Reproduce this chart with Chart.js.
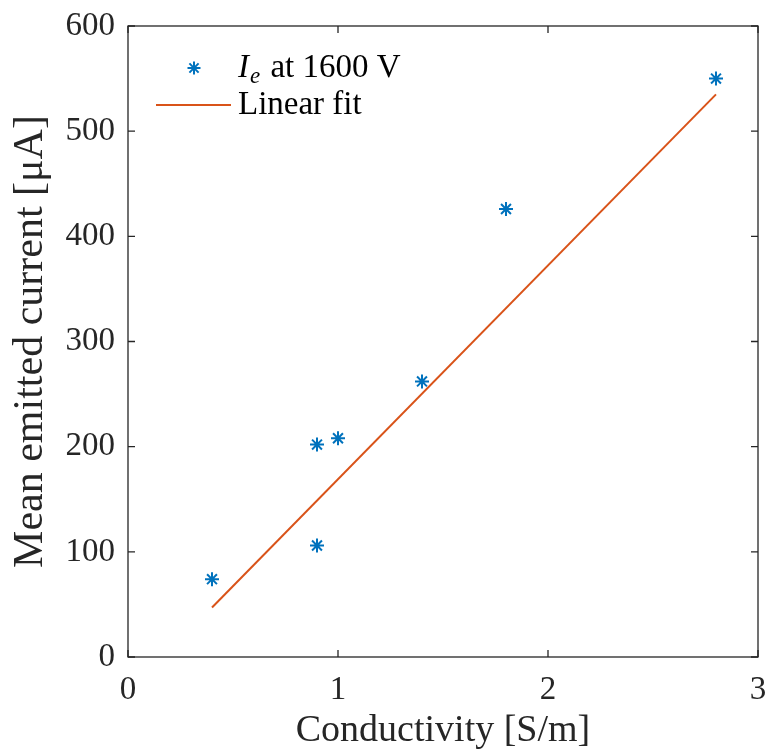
<!DOCTYPE html>
<html><head><meta charset="utf-8">
<script src="https://cdn.jsdelivr.net/npm/chart.js@4.4.1/dist/chart.umd.min.js"></script>
<style>html,body{margin:0;padding:0;background:#fff}#wrap{width:767px;height:754px}</style>
</head><body><div id="wrap"><canvas id="c" width="767" height="754"></canvas></div>
<script>
const conductivity = [0.4, 0.9, 0.9, 1.0, 1.4, 1.8, 2.8];
const meanCurrent = [74, 106, 202, 208, 262, 426, 550];
const fitX = [0.4, 2.8];
const fitY = [47, 535];
const xTicks = [0, 1, 2, 3];
const yTicks = [0, 100, 200, 300, 400, 500, 600];
const xTitle = 'Conductivity [S/m]';
const yTitle = 'Mean emitted current [\u03BCA]';
const seriesLabels = ['I_e at 1600 V', 'Linear fit'];

const FONT = '"Liberation Serif", "DejaVu Serif", serif';
const BLUE = '#0072BD', ORANGE = '#D95319', AX = '#262626';

const boxPlugin = {
  id: 'box',
  afterDatasetsDraw(chart) {
    const {ctx, chartArea: a, scales: {x, y}} = chart;
    ctx.save();
    ctx.strokeStyle = AX; ctx.lineWidth = 1.3;
    ctx.strokeRect(a.left, a.top, a.right - a.left, a.bottom - a.top);
    const L = 7;
    ctx.beginPath();
    xTicks.forEach(v => { const px = x.getPixelForValue(v);
      ctx.moveTo(px, a.bottom); ctx.lineTo(px, a.bottom - L);
      ctx.moveTo(px, a.top); ctx.lineTo(px, a.top + L); });
    yTicks.forEach(v => { const py = y.getPixelForValue(v);
      ctx.moveTo(a.left, py); ctx.lineTo(a.left + L, py);
      ctx.moveTo(a.right, py); ctx.lineTo(a.right - L, py); });
    ctx.stroke();
    // legend
    const ly1 = 68, ly2 = 105;
    ctx.strokeStyle = BLUE; ctx.lineWidth = 2;
    const mx = 194, r = 6.5;
    ctx.beginPath();
    for (let k = 0; k < 4; k++) {
      const ang = k * Math.PI / 4;
      ctx.moveTo(mx - r * Math.cos(ang), ly1 - r * Math.sin(ang));
      ctx.lineTo(mx + r * Math.cos(ang), ly1 + r * Math.sin(ang));
    }
    ctx.stroke();
    ctx.strokeStyle = ORANGE; ctx.lineWidth = 2;
    ctx.beginPath(); ctx.moveTo(156, ly2); ctx.lineTo(231, ly2); ctx.stroke();
    ctx.fillStyle = '#000'; ctx.textBaseline = 'middle'; ctx.textAlign = 'left';
    const tx = 238;
    ctx.font = 'italic 33px ' + FONT;
    ctx.fillText('I', tx, ly1);
    let w = ctx.measureText('I').width;
    ctx.font = 'italic 23px ' + FONT;
    ctx.fillText('e', tx + w + 1, ly1 + 9);
    let w2 = ctx.measureText('e').width;
    ctx.font = '33px ' + FONT;
    ctx.fillText(' at 1600 V', tx + w + w2 + 3, ly1);
    ctx.fillText(seriesLabels[1], tx, ly2);
    ctx.restore();
  }
};

new Chart(document.getElementById('c'), {
  type: 'scatter',
  data: {
    datasets: [
      { label: seriesLabels[0], data: conductivity.map((v, i) => ({x: v, y: meanCurrent[i]})),
        pointStyle: 'star', pointRadius: 7, pointBorderWidth: 2, borderColor: BLUE, backgroundColor: BLUE, showLine: false, order: 1 },
      { label: seriesLabels[1], data: fitX.map((v, i) => ({x: v, y: fitY[i]})),
        showLine: true, pointRadius: 0, borderColor: ORANGE, borderWidth: 2, order: 2 }
    ]
  },
  options: {
    responsive: false, animation: false,
    layout: { padding: { top: 26, right: 0, left: 0, bottom: 0 } },
    plugins: { legend: { display: false }, tooltip: { enabled: false } },
    scales: {
      x: { type: 'linear', min: 0, max: 3,
        afterFit(s) { s.height = 97; s.paddingRight = 9; s.paddingLeft = 0; },
        afterBuildTicks(s) { s.ticks = xTicks.map(v => ({value: v})); },
        grid: { display: false, drawTicks: false }, border: { display: false },
        ticks: { color: '#262626', font: { family: FONT, size: 33 }, padding: 14, maxRotation: 0 },
        title: { display: true, text: xTitle, color: '#262626', font: { family: FONT, size: 38 }, padding: { top: 0, bottom: 0 } } },
      y: { type: 'linear', min: 0, max: 600,
        afterFit(s) { s.width = 128; s.paddingTop = 0; s.paddingBottom = 0; },
        afterBuildTicks(s) { s.ticks = yTicks.map(v => ({value: v})); },
        grid: { display: false, drawTicks: false }, border: { display: false },
        ticks: { color: '#262626', font: { family: FONT, size: 33 }, padding: 13 },
        title: { display: true, text: yTitle, color: '#262626', font: { family: FONT, size: 42 }, padding: { top: 6, bottom: 0 } } }
    }
  },
  plugins: [boxPlugin]
});
</script></body></html>
